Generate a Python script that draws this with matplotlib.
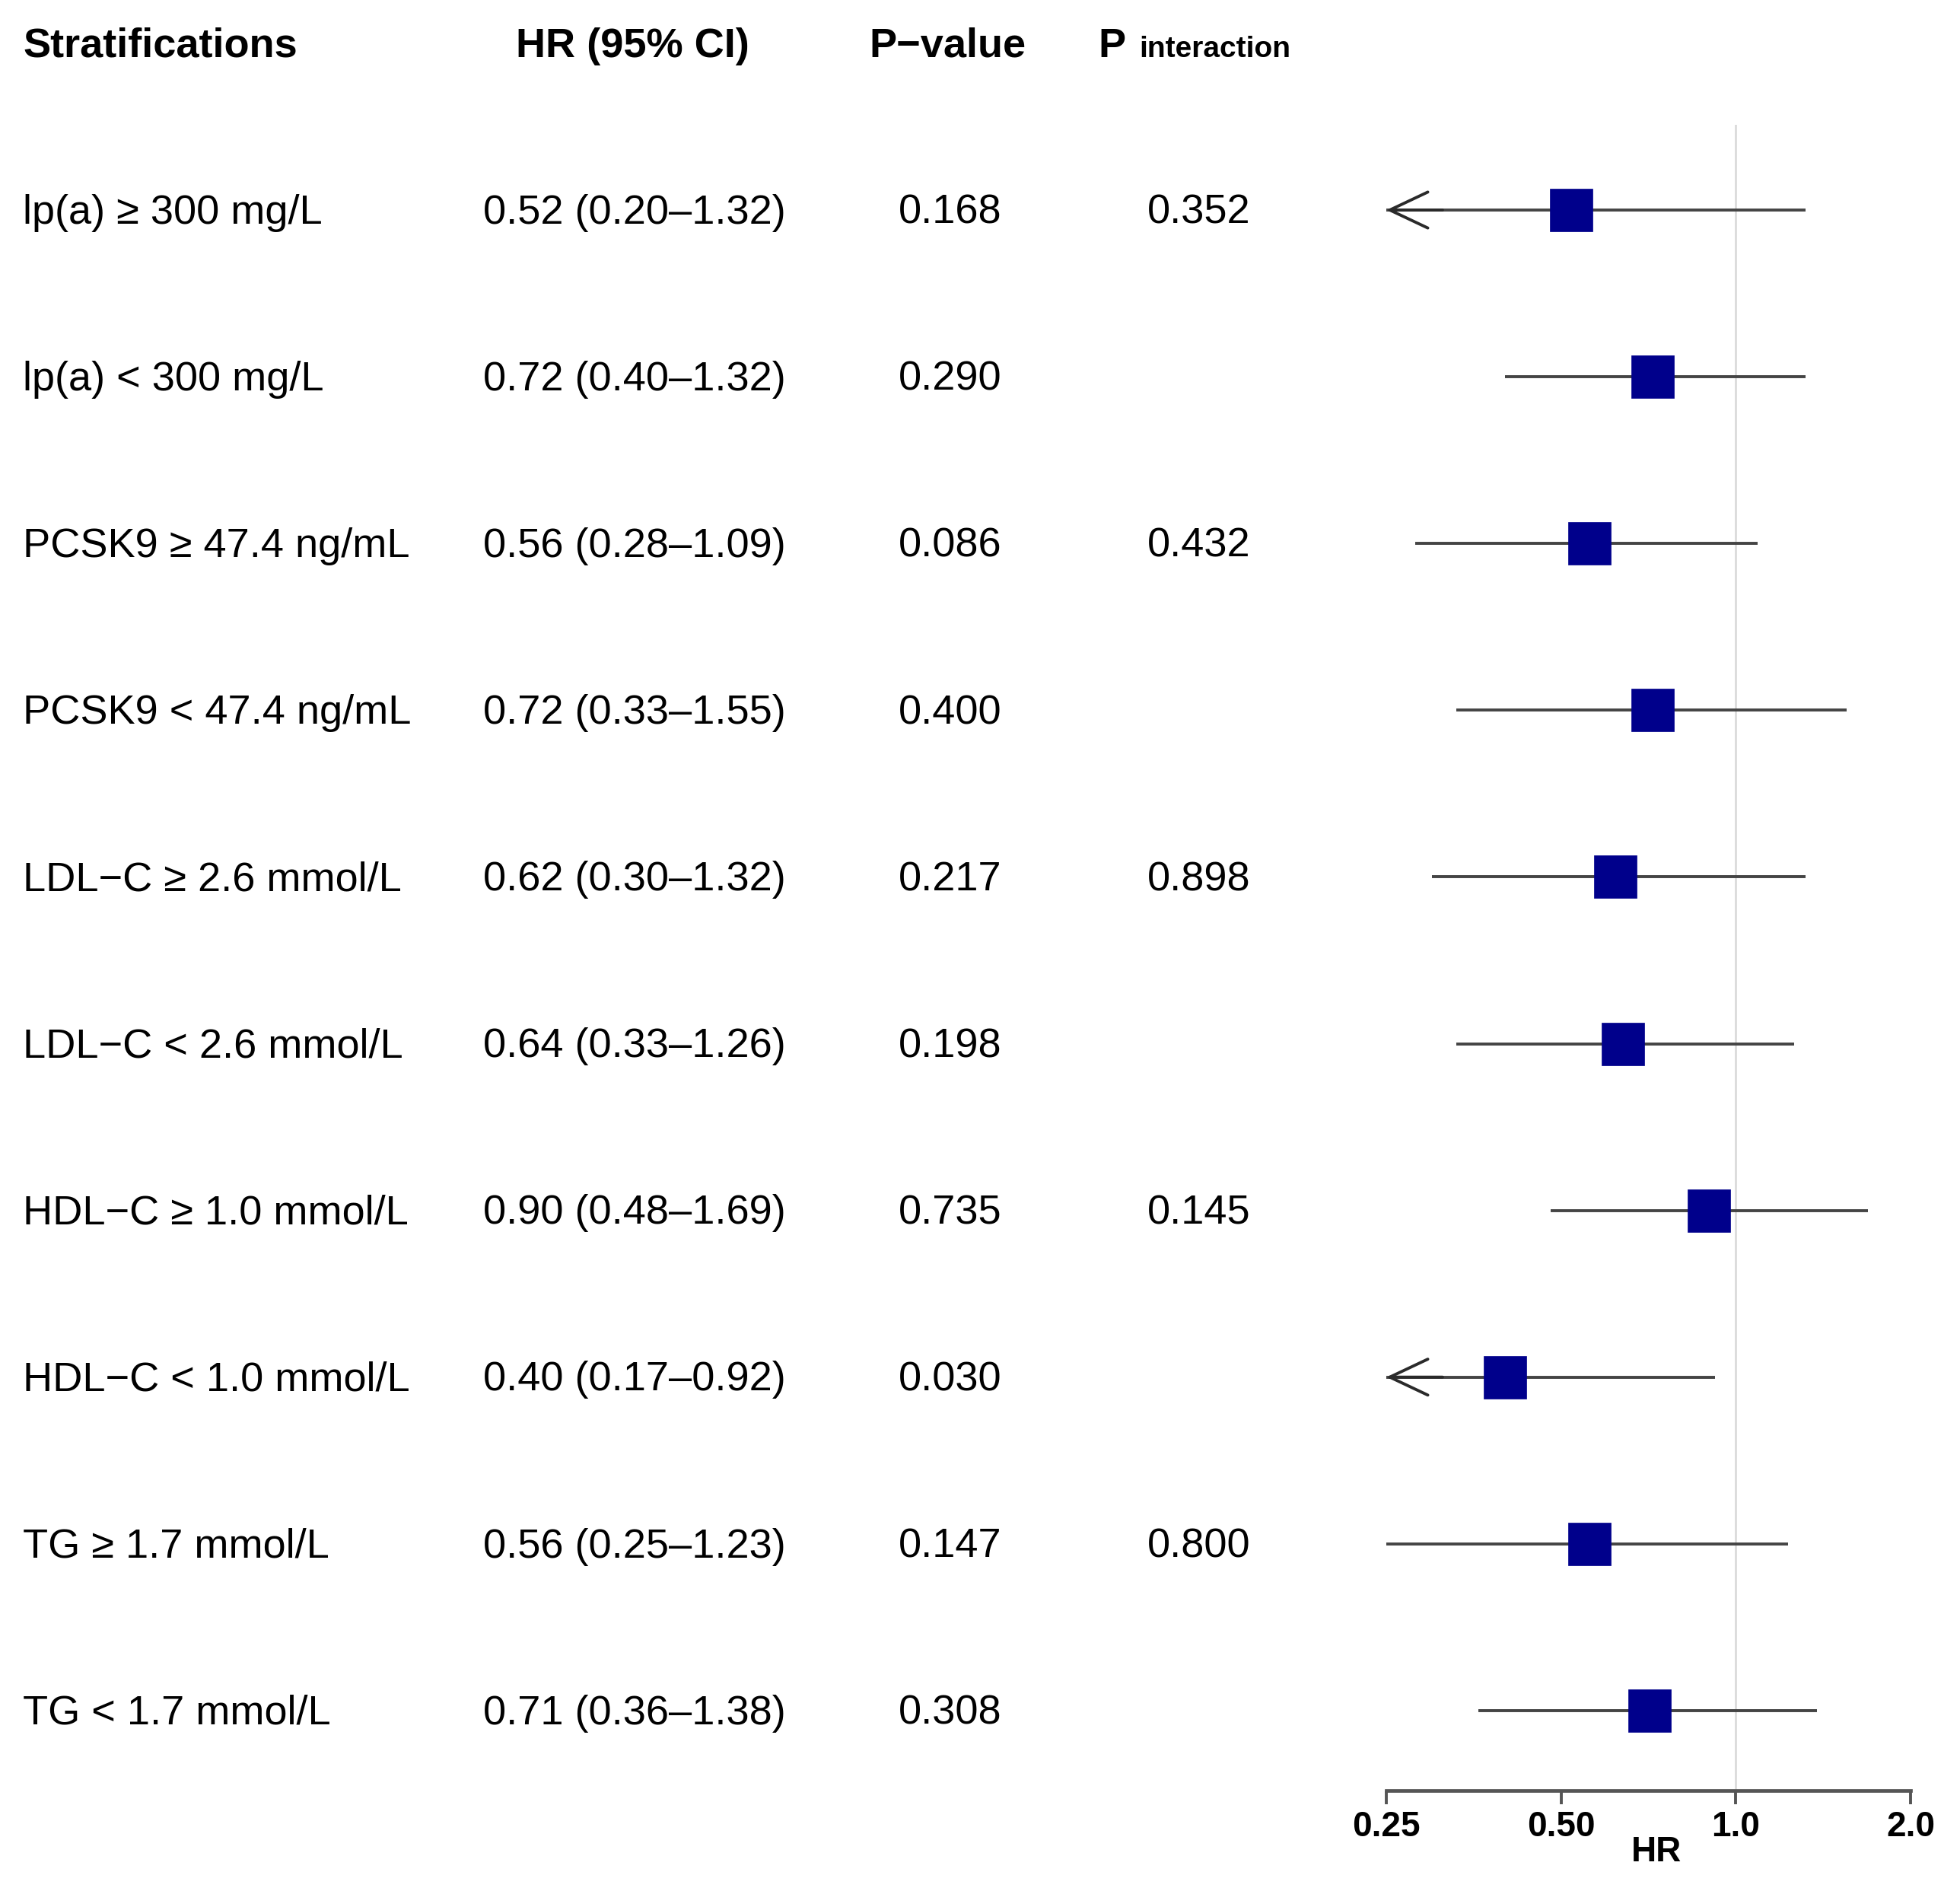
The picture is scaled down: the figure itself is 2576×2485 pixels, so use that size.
import matplotlib
matplotlib.use("Agg")
import matplotlib.pyplot as plt
from matplotlib.transforms import blended_transform_factory

plt.rcParams['font.family'] = ['Liberation Sans', 'DejaVu Sans']

labels = ["lp(a) ≥ 300 mg/L", "lp(a) < 300 mg/L", "PCSK9 ≥ 47.4 ng/mL", "PCSK9 < 47.4 ng/mL",
          "LDL−C ≥ 2.6 mmol/L", "LDL−C < 2.6 mmol/L", "HDL−C ≥ 1.0 mmol/L", "HDL−C < 1.0 mmol/L",
          "TG ≥ 1.7 mmol/L", "TG < 1.7 mmol/L"]
hr = [0.52, 0.72, 0.56, 0.72, 0.62, 0.64, 0.90, 0.40, 0.56, 0.71]
lower = [0.20, 0.40, 0.28, 0.33, 0.30, 0.33, 0.48, 0.17, 0.25, 0.36]
upper = [1.32, 1.32, 1.09, 1.55, 1.32, 1.26, 1.69, 0.92, 1.23, 1.38]
pvals = ["0.168", "0.290", "0.086", "0.400", "0.217", "0.198", "0.735", "0.030", "0.147", "0.308"]
pint = ["0.352", "", "0.432", "", "0.898", "", "0.145", "", "0.800", ""]
xticks = [0.25, 0.5, 1.0, 2.0]
xticklabels = ["0.25", "0.50", "1.0", "2.0"]

W, H = 2576, 2485
fig = plt.figure(figsize=(W / 100, H / 100), dpi=100)

ax_left, ax_right = 1822, 2511
ax_top, ax_bot = 164, 2353
ax = fig.add_axes([ax_left / W, 1 - ax_bot / H, (ax_right - ax_left) / W, (ax_bot - ax_top) / H])
ax.set_xscale('log', base=2)
xmin, xmax = 0.25, 2.0
ax.set_xlim(xmin, xmax)
row0, step = 276, 219.1
ax.set_ylim((ax_bot - row0) / step, (ax_top - row0) / step)

line_col = '#444444'
ax.axvline(1.0, color='#d6d6d6', lw=1.8, zorder=1)

for i in range(len(hr)):
    lo = lower[i]
    if lo < xmin:
        ax.plot([xmin, upper[i]], [i, i], color=line_col, lw=2.8, zorder=2, solid_capstyle='butt')
        ax.annotate('', xy=(xmin, i), xytext=(xmin * 1.25, i),
                    arrowprops=dict(arrowstyle='->,head_length=1.8,head_width=0.85',
                                    color='#2a2a2a', lw=2.8, mutation_scale=20,
                                    shrinkA=0, shrinkB=0),
                    annotation_clip=False, zorder=2)
    else:
        ax.plot([lo, upper[i]], [i, i], color=line_col, lw=2.8, zorder=2, solid_capstyle='butt')
    ax.plot(hr[i], i, marker='s', markersize=40, color='#00008B', markeredgecolor='#00008B',
            markeredgewidth=0.5, zorder=3)

for s in ['top', 'right', 'left']:
    ax.spines[s].set_visible(False)
ax.spines['bottom'].set_color('#555555')
ax.spines['bottom'].set_linewidth(3.4)
ax.set_yticks([])
ax.set_xticks(xticks)
ax.set_xticklabels(xticklabels, fontsize=33, fontweight='bold')
ax.xaxis.set_minor_locator(matplotlib.ticker.NullLocator())
ax.tick_params(axis='x', length=13, width=2.8, color='#555555', pad=6)
ax.set_xlabel('HR', fontsize=33, fontweight='bold')
ax.xaxis.set_label_coords((2177 - ax_left) / (ax_right - ax_left), -0.027)

tr = blended_transform_factory(fig.transFigure, ax.transData)
fs = 39
dy = 0.017
hdr_y = (57 - row0) / step + dy
fig_x = lambda px: px / W
ax.text(fig_x(30), hdr_y, "Stratifications", transform=tr, fontsize=fs, fontweight='bold',
        ha='left', va='center')
ax.text(fig_x(831), hdr_y, "HR (95% CI)", transform=tr, fontsize=fs, fontweight='bold',
        ha='center', va='center')
ax.text(fig_x(1245), hdr_y, "P−value", transform=tr, fontsize=fs, fontweight='bold',
        ha='center', va='center')
ax.text(fig_x(1443), hdr_y, "P", transform=tr, fontsize=fs, fontweight='bold',
        ha='left', va='center')
ax.text(fig_x(1497), hdr_y + 0.02, "interaction", transform=tr, fontsize=28, fontweight='bold',
        ha='left', va='center')

for i in range(len(hr)):
    y = i + dy
    ax.text(fig_x(30), y, labels[i], transform=tr, fontsize=fs, ha='left', va='center')
    ax.text(fig_x(834), y, f"{hr[i]:.2f} ({lower[i]:.2f}–{upper[i]:.2f})", transform=tr,
            fontsize=fs, ha='center', va='center')
    ax.text(fig_x(1249), y, pvals[i], transform=tr, fontsize=fs, ha='center', va='center')
    if pint[i]:
        ax.text(fig_x(1576), y, pint[i], transform=tr, fontsize=fs, ha='center', va='center')

fig.savefig('out.png', dpi=100, facecolor='white')
